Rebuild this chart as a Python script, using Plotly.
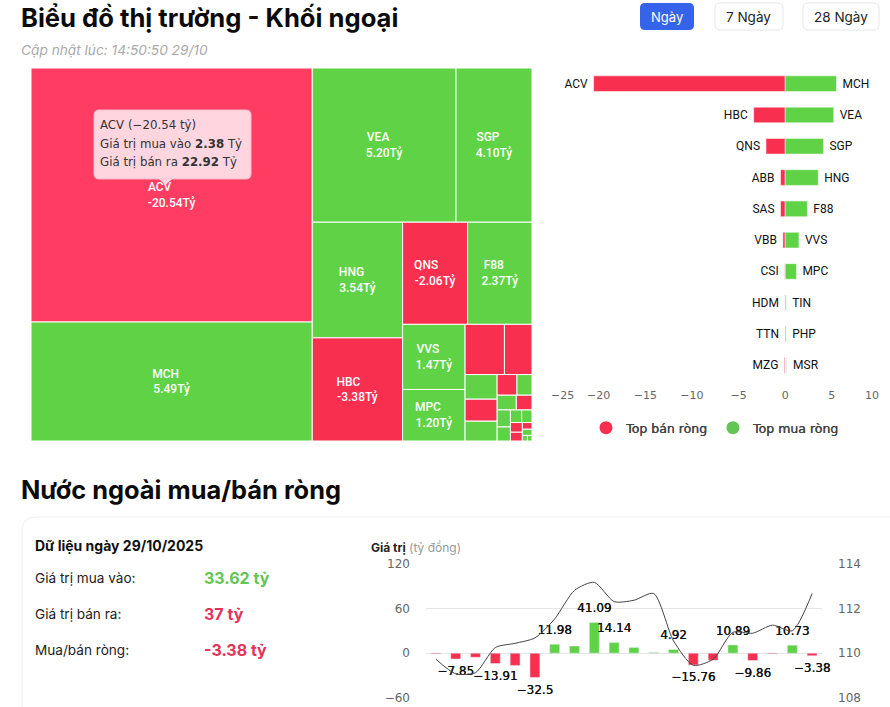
import plotly.graph_objects as go

W, H = 890, 707
FONT = "Inter"
TICK_FONT = "DejaVu Sans"
RED = "#F92F50"
RED_HI = "#FF3D63"
GREEN = "#5FD245"

# treemap: area follows gross trade value, label shows net value
tm_names = ["ACV", "MCH", "VEA", "SGP", "HNG", "HBC", "QNS", "F88", "VVS", "MPC",
            "ABB", "SAS", "K1", "K2", "K3", "K4", "K5", "K6", "K7", "K8",
            "K9", "K10", "K11", "K12", "K13", "K14", "K15", "K16", "K17"]
tm_sizes = [25.3, 11.85, 7.85, 4.15, 3.7, 3.3, 2.35, 2.33, 1.44, 1.14,
            0.7, 0.49, 0.28, 0.25, 0.225, 0.145, 0.11, 0.1, 0.082, 0.08,
            0.066, 0.05, 0.046, 0.041, 0.037, 0.023, 0.021, 0.01, 0.009]
tm_net = ["-20.54", "5.49", "5.20", "4.10", "3.54", "-3.38", "-2.06", "2.37", "1.47", "1.20"]
tm_is_buy = [0, 1, 1, 1, 1, 0, 0, 1, 1, 1,
             0, 0, 1, 0, 1, 0, 1, 1, 0, 1,
             1, 1, 1, 0, 0, 0, 1, 1, 1]

# top net sell / buy
sell_names = ["ACV", "HBC", "QNS", "ABB", "SAS", "VBB", "CSI", "HDM", "TTN", "MZG"]
sell_vals = [-20.54, -3.38, -2.06, -0.5, -0.5, -0.25, -0.05, -0.03, -0.02, -0.1]
buy_names = ["MCH", "VEA", "SGP", "HNG", "F88", "VVS", "MPC", "TIN", "PHP", "MSR"]
buy_vals = [5.49, 5.20, 4.10, 3.54, 2.37, 1.47, 1.20, 0.1, 0.1, 0.2]
rank = list(range(1, 11))
x_ticks = [-20, -15, -10, -5, 0, 5, 10]

# daily net value and index line
days = list(range(20))
net_vals = [-1, -7.85, -5.5, -13.91, -16.5, -32.5, 11.98, 9.5, 41.09, 14.14,
            7.5, 0.8, 4.92, -15.76, -9.5, 10.89, -9.86, -1, 10.73, -3.38]
net_labels = ["", "−7.85", "", "−13.91", "", "−32.5", "11.98", "", "41.09", "14.14",
              "", "", "4.92", "−15.76", "", "10.89", "−9.86", "", "10.73", "−3.38"]
index_vals = [109.73, 109.08, 109.13, 110.25, 110.44, 110.68, 111.53, 112.8, 113.16, 112.3,
              112.36, 112.66, 110.55, 109.46, 109.73, 110.93, 110.89, 111.25, 111.0, 112.66]


def px(x):
    return x / W


def py(y):
    return 1 - y / H


def rounded(x0, y0, x1, y1, r):
    # rounded box, pixel coords to paper
    pts = f"M{px(x0+r)},{py(y0)} L{px(x1-r)},{py(y0)} Q{px(x1)},{py(y0)} {px(x1)},{py(y0+r)} "
    pts += f"L{px(x1)},{py(y1-r)} Q{px(x1)},{py(y1)} {px(x1-r)},{py(y1)} "
    pts += f"L{px(x0+r)},{py(y1)} Q{px(x0)},{py(y1)} {px(x0)},{py(y1-r)} "
    pts += f"L{px(x0)},{py(y0+r)} Q{px(x0)},{py(y0)} {px(x0+r)},{py(y0)} Z"
    return pts


def box(x0, y0, x1, y1, r, fill, line="rgba(0,0,0,0)", layer="below"):
    return dict(type="path", xref="paper", yref="paper", path=rounded(x0, y0, x1, y1, r),
                fillcolor=fill, line=dict(color=line, width=1), layer=layer)


def label(x, y, text, size=13, color="#222", anchor="left", family=FONT):
    # annotations carry 2px of padding on the left
    x = x - 2 if anchor == "left" else x
    return dict(xref="paper", yref="paper", x=px(x), y=py(y), text=text, showarrow=False,
                xanchor=anchor, yanchor="middle", font=dict(family=family, size=size, color=color))


fig = go.Figure()

tm_colors = [GREEN if b else RED for b in tm_is_buy]
tm_colors[0] = RED_HI
# nbsp padding keeps the two lines left aligned
tm_text = [n + "\u00a0" * int(1.6 * (len(v) - 1)) + f"<br>{v}Tỷ" for n, v in zip(tm_names, tm_net)]
tm_text += [""] * (len(tm_names) - len(tm_net))
fig.add_trace(go.Treemap(
    labels=tm_names, parents=[""] * len(tm_names), values=tm_sizes,
    text=tm_text, textinfo="text", textposition="middle center", sort=True,
    textfont=dict(family="Roboto", size=12, color="white", weight=500),
    marker=dict(colors=tm_colors, line=dict(color="white", width=1), pad=dict(t=0, l=0, r=0, b=0)),
    tiling=dict(packing="squarify", squarifyratio=1.2, pad=0),
    pathbar=dict(visible=False),
    domain=dict(x=[px(31), px(532)], y=[py(441), py(68)]),
    hoverinfo="skip",
))

fig.add_trace(go.Bar(
    x=sell_vals, y=rank, orientation="h", text=[n + "\u00a0" for n in sell_names], textposition="outside",
    textfont=dict(family="Roboto", size=12, color="#111"), cliponaxis=False,
    marker=dict(color=RED, line=dict(color="white", width=0.5)), xaxis="x", yaxis="y", showlegend=False,
))
fig.add_trace(go.Bar(
    x=buy_vals, y=rank, orientation="h", text=["\u00a0" + n for n in buy_names], textposition="outside",
    textfont=dict(family="Roboto", size=12, color="#111"), cliponaxis=False,
    marker=dict(color=[GREEN if n != "MSR" else "#DFE7F2" for n in buy_names], line=dict(color="white", width=0.5)),
    xaxis="x", yaxis="y", showlegend=False,
))
for name, color in [("Top bán ròng", RED), ("Top mua ròng", "#62C554")]:
    fig.add_trace(go.Scatter(x=[None], y=[None], mode="markers", name=name, xaxis="x", yaxis="y",
                             marker=dict(symbol="circle", size=13, color=color)))

fig.add_trace(go.Bar(
    x=days, y=net_vals, cliponaxis=False,
    marker=dict(color=[GREEN if v > 0 else RED for v in net_vals]),
    xaxis="x2", yaxis="y2", showlegend=False,
))
fig.add_trace(go.Scatter(
    x=days, y=index_vals, mode="lines", line=dict(color="#444", width=1, shape="spline", smoothing=0.7),
    xaxis="x2", yaxis="y3", showlegend=False,
))
# value labels sit above or below their bar, the hidden marker sets the gap
fig.add_trace(go.Scatter(
    x=days, y=net_vals, mode="markers+text", text=net_labels, cliponaxis=False,
    marker=dict(size=10, opacity=0),
    textposition=["top center" if v > 0 else "bottom center" for v in net_vals],
    textfont=dict(family=TICK_FONT, size=12, color="#111", shadow="0.3px 0 0 #111"),
    xaxis="x2", yaxis="y2", showlegend=False,
))

shapes = [
    box(22, 517, 905, 730, 14, "white", "#f1f1f1"),
    box(640, 3, 694, 30, 5, "#3563E9"),
    box(715, 3, 783, 30, 5, "white", "#e6e6e6"),
    box(803, 3, 879, 30, 5, "white", "#e6e6e6"),
    box(94, 110, 251, 179, 5, "#FFD6E0", "#f7b9c8", layer="above"),
    dict(type="path", xref="paper", yref="paper", layer="above", fillcolor="#FFD6E0", line=dict(width=0),
         path=f"M{px(159)},{py(179)} L{px(172)},{py(179)} L{px(165.5)},{py(185)} Z"),
]

annotations = [
    label(21, 17, "<b>Biểu đồ thị trường - Khối ngoại</b>", size=25.6, color="#0b0b0b"),
    label(21, 50, "<i>Cập nhật lúc: 14:50:50 29/10</i>", size=13.7, color="#aaaaaa"),
    label(667, 17, "Ngày", size=13, color="white", anchor="center"),
    label(748, 17, "7 Ngày", size=13.5, anchor="center"),
    label(841, 17, "28 Ngày", size=13.5, anchor="center"),
    label(100, 125, "ACV (−20.54 tỷ)", size=11.8, color="#333", family=TICK_FONT),
    label(100, 144, "Giá trị mua vào <b>2.38</b> Tỷ", size=11.8, color="#333", family=TICK_FONT),
    label(100, 162, "Giá trị bán ra <b>22.92</b> Tỷ", size=11.8, color="#333", family=TICK_FONT),
    label(21, 490, "<b>Nước ngoài mua/bán ròng</b>", size=25.4, color="#0b0b0b"),
    label(35, 545, "<b>Dữ liệu ngày 29/10/2025</b>", size=14, color="#111"),
    label(35, 578, "Giá trị mua vào:", size=13.6),
    label(35, 614, "Giá trị bán ra:", size=13.6),
    label(35, 650, "Mua/bán ròng:", size=13.6),
    label(204, 578, "<b>33.62 tỷ</b>", size=16, color="#62C554"),
    label(204, 614, "<b>37 tỷ</b>", size=16, color="#E5325A"),
    label(204, 650, "<b>-3.38 tỷ</b>", size=16, color="#E5325A"),
    label(371, 547, "<b>Giá trị</b> <span style='color:#999'>(tỷ đồng)</span>", size=12),
    # end ticks of the bar axis are pulled inwards in the source
    label(562, 395, "−25", size=11, color="#666", anchor="center", family=TICK_FONT),
    label(872, 395, "10", size=11, color="#666", anchor="center", family=TICK_FONT),
]

axis_off = dict(showgrid=False, zeroline=False, showline=False, showticklabels=False, ticks="")
fig.update_layout(
    width=W, height=H, autosize=False, margin=dict(l=0, r=0, t=0, b=0, autoexpand=False),
    paper_bgcolor="white", plot_bgcolor="rgba(0,0,0,0)", font=dict(family=FONT),
    barmode="overlay", bargap=0.5, shapes=shapes, annotations=annotations,
    xaxis=dict(domain=[px(552), px(878.5)], range=[-25, 10], tickvals=x_ticks[:-1],
               showgrid=False, zeroline=False, showline=False, anchor="y",
               ticklabelstandoff=6, tickfont=dict(family=TICK_FONT, size=11, color="#666")),
    yaxis=dict(domain=[py(381), py(68)], range=[10.5, 0.5], anchor="x", **axis_off),
    xaxis2=dict(domain=[px(426), px(822)], range=[-0.5, 19.5], anchor="y2", **axis_off),
    yaxis2=dict(domain=[py(698), py(563.5)], range=[-60, 120], tickvals=[-60, 0, 60, 120], anchor="x2",
                gridcolor="#e6e6e6", gridwidth=1, zeroline=False, ticklabelstandoff=15,
                tickfont=dict(family=TICK_FONT, size=12, color="#666")),
    yaxis3=dict(domain=[py(698), py(563.5)], range=[108, 114], tickvals=[108, 110, 112, 114], anchor="x2",
                overlaying="y2", side="right", showgrid=False, zeroline=False, ticklabelstandoff=15,
                tickfont=dict(family=TICK_FONT, size=12, color="#666")),
    legend=dict(orientation="h", x=px(586), y=py(413), xanchor="left", yanchor="top", itemclick=False,
                font=dict(family=TICK_FONT, size=12.5, color="#444", shadow="0.4px 0 0 #444"),
                bgcolor="rgba(0,0,0,0)"),
)

fig.write_html("out.html", config=dict(displayModeBar=False),
               post_script="document.body.style.margin='0';document.body.style.overflow='hidden';")
